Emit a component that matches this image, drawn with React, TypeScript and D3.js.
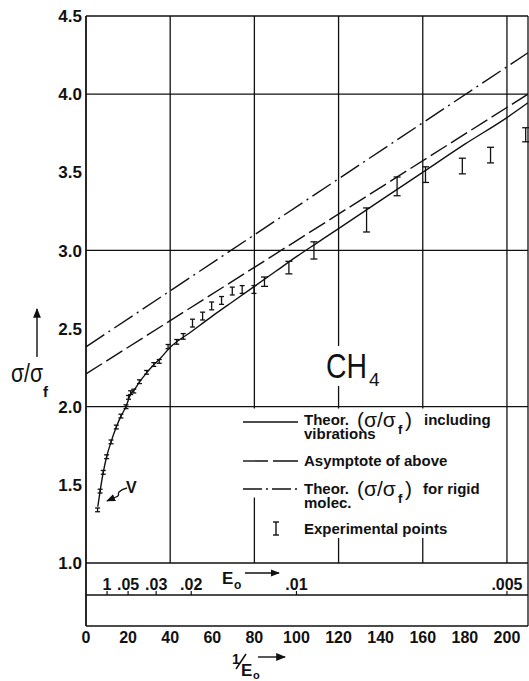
import React from 'react';
import * as d3 from 'd3';

const W = 529, H = 681;

// axis ticks
const xTicks = [0, 20, 40, 60, 80, 100, 120, 140, 160, 180, 200];
const yTicks = [1, 1.5, 2, 2.5, 3, 3.5, 4, 4.5];
const yTickLabels = ['1.0', '1.5', '2.0', '2.5', '3.0', '3.5', '4.0', '4.5'];
const yGridValues = [1, 2, 3, 4];
const xGridValues = [40, 80, 120, 160, 200];

// secondary E0 scale
const e0Labels = ['1', '.05', '.03', '.02', '.01', '.005'];
const e0Values = [0.1, 0.05, 0.03, 0.02, 0.01, 0.005];

// Theoretical curve including vibrations
const solidX = [5.6, 6.7, 8.2, 9.8, 11.9, 14.4, 16.6, 19, 21, 23, 25.5, 29, 32, 35, 40, 50, 60, 70, 80, 90, 100, 110, 120, 140, 160, 180, 200, 210];
const solidY = [1.36, 1.46, 1.58, 1.68, 1.775, 1.87, 1.94, 2.0, 2.075, 2.11, 2.16, 2.22, 2.265, 2.305, 2.38, 2.48, 2.58, 2.675, 2.77, 2.865, 2.96, 3.05, 3.14, 3.32, 3.5, 3.68, 3.85, 3.945];

// Asymptote of above
const asymX = [0, 210];
const asymY = [2.21, 4.0];

// Theoretical for rigid molecules
const rigidX = [0, 210];
const rigidY = [2.383, 4.265];

// Experimental points
const expX = [5.5, 6.7, 8.2, 9.8, 11.9, 14.4, 16.6, 19.0, 20.2, 21.2, 22.7, 25.4, 28.8, 32.2, 34.8, 39.0, 43.1, 46.2, 50.6, 55.4, 59.7, 64.4, 69.5, 74.2, 79.8, 84.8, 96.4, 108.3, 133.3, 147.8, 161.3, 178.8, 192.2, 208.9];
const expY = [1.34, 1.46, 1.58, 1.68, 1.775, 1.87, 1.94, 2.0, 2.06, 2.09, 2.1, 2.16, 2.22, 2.27, 2.29, 2.385, 2.415, 2.45, 2.535, 2.58, 2.645, 2.68, 2.74, 2.75, 2.75, 2.8, 2.89, 3.0, 3.195, 3.41, 3.485, 3.54, 3.61, 3.74];
const expErr = [0.012, 0.012, 0.012, 0.012, 0.012, 0.012, 0.012, 0.012, 0.012, 0.012, 0.012, 0.012, 0.012, 0.012, 0.012, 0.013, 0.015, 0.018, 0.025, 0.025, 0.025, 0.025, 0.025, 0.025, 0.025, 0.03, 0.04, 0.055, 0.077, 0.06, 0.05, 0.05, 0.05, 0.045];

const FONT = '"Liberation Sans", Arial, sans-serif';

export default function App() {
  const x = d3.scaleLinear().domain([0, 210]).range([86, 528]);
  const y = d3.scaleLinear().domain([1, 4.5]).range([563, 16]);
  const yE0 = 595;
  const yBottom = 626;

  const line = d3.line<[number, number]>().x(d => x(d[0])).y(d => y(d[1]));
  const curve = d3.line<[number, number]>().x(d => x(d[0])).y(d => y(d[1])).curve(d3.curveMonotoneX);

  const solidPath = curve(solidX.map((v, i) => [v, solidY[i]]) as [number, number][]) || '';
  const asymPath = line(asymX.map((v, i) => [v, asymY[i]]) as [number, number][]) || '';
  const rigidPath = line(rigidX.map((v, i) => [v, rigidY[i]]) as [number, number][]) || '';

  const stroke = '#111';

  return (
    <svg width={W} height={H} style={{ position: 'absolute', left: 0, top: 0, background: '#fff' }} fontFamily={FONT}>
      <defs>
        <clipPath id="plot">
          <rect x={x(0)} y={y(4.5)} width={x(210) - x(0)} height={y(1) - y(4.5)} />
        </clipPath>
        <marker id="ah" viewBox="0 0 10 10" refX="9" refY="5" markerWidth="7" markerHeight="7" orient="auto">
          <path d="M0,1 L10,5 L0,9 Z" fill={stroke} />
        </marker>
      </defs>
      <rect x={0} y={0} width={W} height={H} fill="#fff" />

      {/* grid */}
      {xGridValues.map(v => (
        <line key={'xg' + v} x1={x(v)} x2={x(v)} y1={y(4.5)} y2={y(1)} stroke={stroke} strokeWidth={1.3} />
      ))}
      {yGridValues.map(v => (
        <line key={'yg' + v} x1={x(0)} x2={x(210)} y1={y(v)} y2={y(v)} stroke={stroke} strokeWidth={1.3} />
      ))}
      {/* frame */}
      <line x1={x(0)} x2={x(210)} y1={y(4.5)} y2={y(4.5)} stroke={stroke} strokeWidth={1.6} />
      <line x1={x(0)} x2={x(0)} y1={y(4.5)} y2={yBottom} stroke={stroke} strokeWidth={1.8} />
      <line x1={x(210)} x2={x(210)} y1={y(4.5)} y2={yBottom} stroke={stroke} strokeWidth={1.3} />
      <line x1={x(0)} x2={x(210)} y1={yE0} y2={yE0} stroke={stroke} strokeWidth={1.3} />
      <line x1={x(0)} x2={x(210)} y1={yBottom} y2={yBottom} stroke={stroke} strokeWidth={1.6} />

      {/* legend background */}
      <rect x={240} y={408.5} width={266} height={89} fill="#fff" />
      <rect x={262} y={497} width={244} height={41} fill="#fff" />
      {/* CH4 label background */}
      <rect x={322} y={346} width={60} height={40} fill="#fff" />

      {/* curves */}
      <g clipPath="url(#plot)" fill="none" stroke={stroke} strokeWidth={1.4}>
        <path d={rigidPath} strokeDasharray="22,5,2,5" />
        <path d={asymPath} strokeDasharray="19,5" />
        <path d={solidPath} />
      </g>

      {/* experimental points */}
      <g stroke={stroke} strokeWidth={1.3}>
        {expX.map((v, i) => {
          const cx = x(v);
          const y1 = y(expY[i] + expErr[i]);
          const y2 = y(expY[i] - expErr[i]);
          const hw = expErr[i] < 0.03 ? 2.5 : 3.5;
          return (
            <g key={'e' + i}>
              <line x1={cx} x2={cx} y1={y1} y2={y2} />
              <line x1={cx - hw} x2={cx + hw} y1={y1} y2={y1} />
              <line x1={cx - hw} x2={cx + hw} y1={y2} y2={y2} />
            </g>
          );
        })}
      </g>

      {/* y tick labels */}
      {yTicks.map((v, i) => (
        <text key={'yt' + v} x={82} y={y(v)} dy="0.36em" textAnchor="end" fontSize={17} fontWeight="bold" fill={stroke}>
          {yTickLabels[i]}
        </text>
      ))}
      {/* x tick labels */}
      {xTicks.map(v => (
        <text key={'xt' + v} x={x(v)} y={643} textAnchor="middle" fontSize={16} fontWeight="bold" fill={stroke}>
          {v}
        </text>
      ))}
      {/* E0 scale */}
      {e0Values.map((v, i) => (
        <g key={'e0' + i}>
          <line x1={x(1 / v)} x2={x(1 / v)} y1={yE0 - 4} y2={yE0} stroke={stroke} strokeWidth={1.2} />
          <text x={x(1 / v)} y={590} textAnchor="middle" fontSize={16} fontWeight="bold" fill={stroke}>
            {e0Labels[i]}
          </text>
        </g>
      ))}
      <text x={222} y={584} fontSize={17} fontWeight="bold" fill={stroke}>E</text>
      <text x={234} y={589} fontSize={12} fontWeight="bold" fill={stroke}>o</text>
      <line x1={245} x2={279} y1={573} y2={573} stroke={stroke} strokeWidth={1.3} markerEnd="url(#ah)" />

      {/* x axis title */}
      <text x={232} y={664} fontSize={14} fontWeight="bold" fill={stroke}>1</text>
      <line x1={236} x2={246} y1={669} y2={654} stroke={stroke} strokeWidth={1.5} />
      <text x={241} y={676} fontSize={17} fontWeight="bold" fill={stroke}>E</text>
      <text x={253} y={679} fontSize={11} fontWeight="bold" fill={stroke}>o</text>
      <line x1={258} x2={285} y1={657} y2={657} stroke={stroke} strokeWidth={1.4} markerEnd="url(#ah)" />

      {/* y axis title */}
      <line x1={37} x2={37} y1={357} y2={309} stroke={stroke} strokeWidth={1.4} markerEnd="url(#ah)" />
      <text x={11} y={382} fontSize={25} fill={stroke} textLength={32} lengthAdjust="spacingAndGlyphs">σ/σ</text>
      <text x={43} y={397} fontSize={15} fontWeight="bold" fill={stroke}>f</text>

      {/* CH4 */}
      <text x={326} y={378} fontSize={35} fill={stroke} textLength={41} lengthAdjust="spacingAndGlyphs">CH</text>
      <text x={369} y={386} fontSize={19} fill={stroke}>4</text>

      {/* V annotation */}
      <text x={126} y={493} fontSize={16} fontWeight="bold" fill={stroke}>V</text>
      <path d="M127,488 C123,489 121,490 119,492 C117,494 121,495 116,497 L107,501" fill="none" stroke={stroke} strokeWidth={1.3} markerEnd="url(#ah)" />

      {/* legend */}
      <g stroke={stroke} strokeWidth={1.4} fill="none">
        <line x1={243} x2={298} y1={422} y2={422} />
        <line x1={243} x2={298} y1={461} y2={461} strokeDasharray="25,5" />
        <line x1={243} x2={298} y1={489} y2={489} strokeDasharray="19,4,2,4" />
        <line x1={276} x2={276} y1={522} y2={535} />
        <line x1={273} x2={279} y1={522} y2={522} />
        <line x1={273} x2={279} y1={535} y2={535} />
      </g>
      <g fill={stroke} fontSize={15} fontWeight="bold">
        <text x={304} y={425}>Theor.</text>
        <text x={357} y={427} fontSize={21} fontWeight="normal">(σ/σ</text>
        <text x={398} y={434} fontSize={13}>f</text>
        <text x={405} y={427} fontSize={21} fontWeight="normal">)</text>
        <text x={424} y={425}>including</text>
        <text x={304} y={439}>vibrations</text>
        <text x={304} y={466}>Asymptote  of  above</text>
        <text x={304} y={494}>Theor.</text>
        <text x={357} y={496} fontSize={21} fontWeight="normal">(σ/σ</text>
        <text x={398} y={503} fontSize={13}>f</text>
        <text x={405} y={496} fontSize={21} fontWeight="normal">)</text>
        <text x={423} y={494}>for  rigid</text>
        <text x={304} y={508}>molec.</text>
        <text x={304} y={534}>Experimental  points</text>
      </g>
    </svg>
  );
}
